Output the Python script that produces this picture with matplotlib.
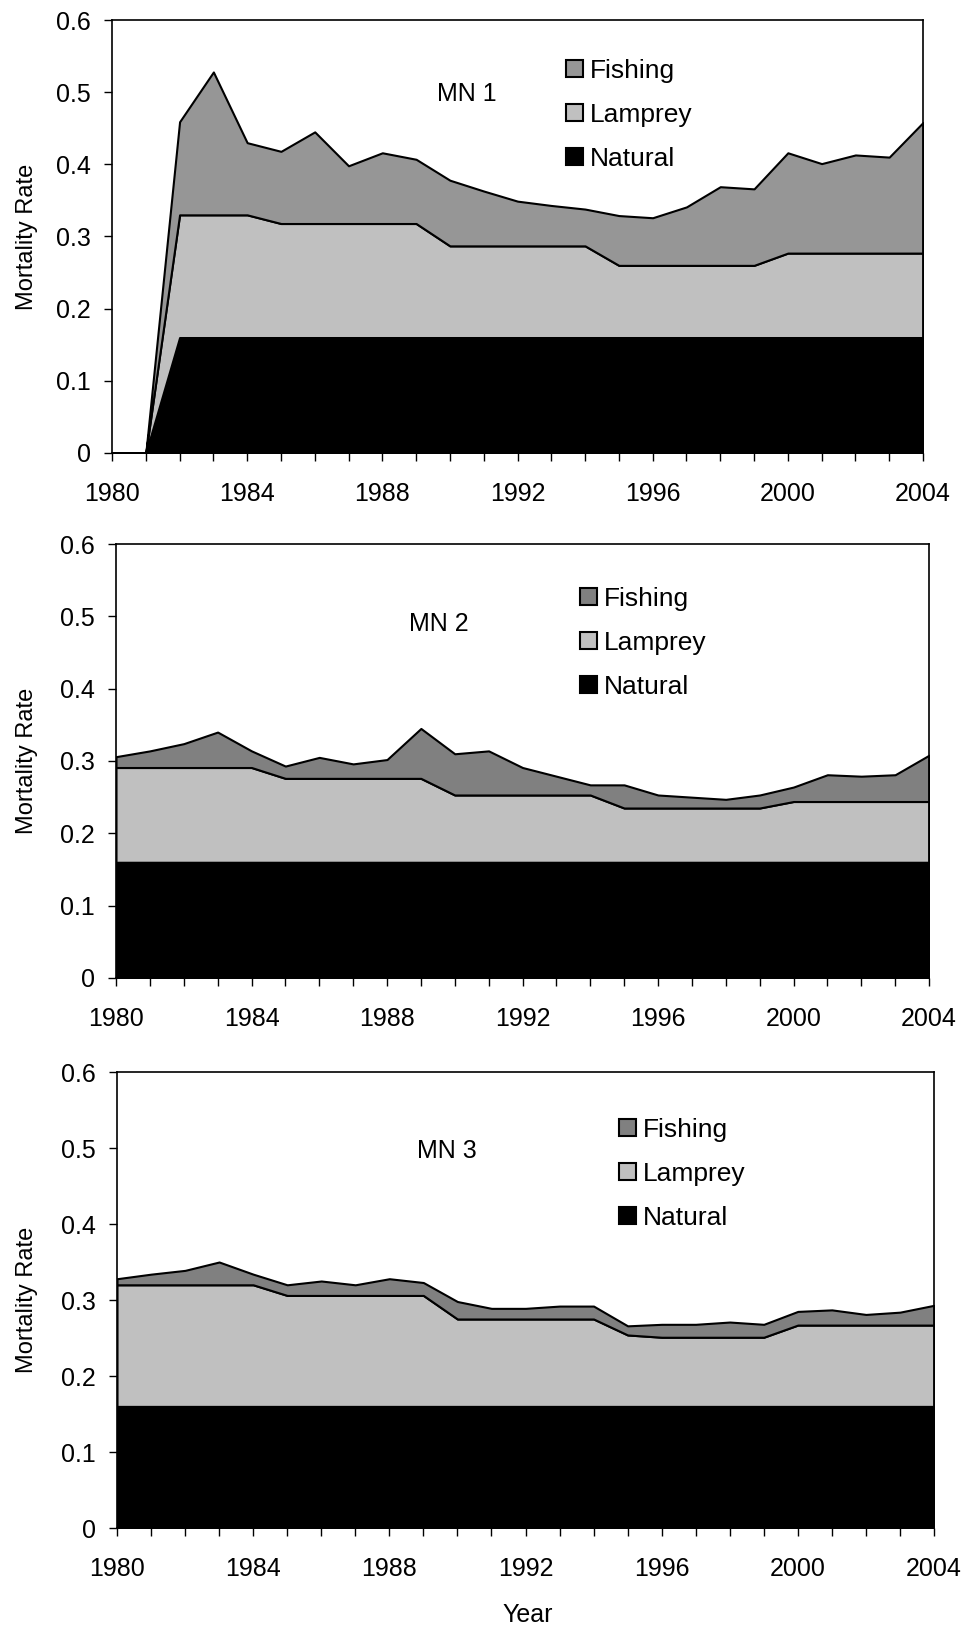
import matplotlib
matplotlib.use('Agg')
import matplotlib.pyplot as plt
from matplotlib.ticker import MultipleLocator

plt.rcParams['font.family'] = ['Liberation Sans', 'DejaVu Sans']

years = list(range(1980, 2005))
labels = ['Natural', 'Lamprey', 'Fishing']
yticks = [0, 0.1, 0.2, 0.3, 0.4, 0.5, 0.6]
ytick_labels = ['0', '0.1', '0.2', '0.3', '0.4', '0.5', '0.6']

# MN 1
natural1 = [0, 0, 0.16, 0.16, 0.16, 0.16, 0.16, 0.16, 0.16, 0.16, 0.16, 0.16, 0.16,
            0.16, 0.16, 0.16, 0.16, 0.16, 0.16, 0.16, 0.16, 0.16, 0.16, 0.16, 0.16]
lamprey1 = [0, 0, 0.17, 0.17, 0.17, 0.158, 0.158, 0.158, 0.158, 0.158, 0.127, 0.127, 0.127,
            0.127, 0.127, 0.10, 0.10, 0.10, 0.10, 0.10, 0.117, 0.117, 0.117, 0.117, 0.117]
fishing1 = [0, 0, 0.129, 0.198, 0.10, 0.10, 0.127, 0.08, 0.098, 0.089, 0.091, 0.076, 0.062,
            0.056, 0.051, 0.069, 0.066, 0.081, 0.109, 0.106, 0.139, 0.124, 0.136, 0.133, 0.181]

# MN 2
natural2 = [0.16, 0.16, 0.16, 0.16, 0.16, 0.16, 0.16, 0.16, 0.16, 0.16, 0.16, 0.16, 0.16,
            0.16, 0.16, 0.16, 0.16, 0.16, 0.16, 0.16, 0.16, 0.16, 0.16, 0.16, 0.16]
lamprey2 = [0.131, 0.131, 0.131, 0.131, 0.131, 0.116, 0.116, 0.116, 0.116, 0.116, 0.093, 0.093, 0.093,
            0.093, 0.093, 0.075, 0.075, 0.075, 0.075, 0.075, 0.084, 0.084, 0.084, 0.084, 0.084]
fishing2 = [0.015, 0.023, 0.033, 0.049, 0.023, 0.017, 0.029, 0.020, 0.026, 0.069, 0.057, 0.061, 0.038,
            0.026, 0.014, 0.032, 0.018, 0.015, 0.012, 0.018, 0.020, 0.037, 0.035, 0.037, 0.064]

# MN 3
natural3 = [0.16, 0.16, 0.16, 0.16, 0.16, 0.16, 0.16, 0.16, 0.16, 0.16, 0.16, 0.16, 0.16,
            0.16, 0.16, 0.16, 0.16, 0.16, 0.16, 0.16, 0.16, 0.16, 0.16, 0.16, 0.16]
lamprey3 = [0.160, 0.160, 0.160, 0.160, 0.160, 0.146, 0.146, 0.146, 0.146, 0.146, 0.115, 0.115, 0.115,
            0.115, 0.115, 0.094, 0.091, 0.091, 0.091, 0.091, 0.107, 0.107, 0.107, 0.107, 0.107]
fishing3 = [0.008, 0.014, 0.019, 0.030, 0.014, 0.014, 0.019, 0.014, 0.022, 0.017, 0.023, 0.014, 0.014,
            0.017, 0.017, 0.012, 0.017, 0.017, 0.020, 0.017, 0.018, 0.020, 0.014, 0.017, 0.026]

W, H = 963, 1625
fig = plt.figure(figsize=(W / 100, H / 100), dpi=100)

# left, right, top, bottom in pixels
panels = [
    ('MN 1', natural1, lamprey1, fishing1, '#969696', (112, 923, 20, 453), (467, 94), (566, 59)),
    ('MN 2', natural2, lamprey2, fishing2, '#808080', (116, 929, 544, 978), (439, 624), (580, 587)),
    ('MN 3', natural3, lamprey3, fishing3, '#808080', (117, 934, 1072, 1528), (447, 1151), (619, 1118)),
]

for name, nat, lam, fis, fcol, box, txt, leg in panels:
    l, r, t, b = box
    ax = fig.add_axes([l / W, 1 - b / H, (r - l) / W, (b - t) / H])
    polys = ax.stackplot(years, nat, lam, fis, colors=['black', '#C0C0C0', fcol],
                         edgecolor='black', linewidth=1.5, labels=labels)
    ax.set_xlim(1980, 2004)
    ax.set_ylim(0, 0.6)
    ax.xaxis.set_major_locator(MultipleLocator(4))
    ax.xaxis.set_minor_locator(MultipleLocator(1))
    ax.set_yticks(yticks)
    ax.set_yticklabels(ytick_labels)
    ax.tick_params(axis='x', which='both', direction='out', length=6, width=1, labelsize=18, pad=15)
    ax.tick_params(axis='y', direction='out', length=6, width=1, labelsize=18, pad=9)
    for s in ax.spines.values():
        s.set_linewidth(1.2)
    ax.set_ylabel('Mortality Rate', fontsize=17)
    ax.yaxis.set_label_coords((38 - l) / (r - l), 0.5)
    ax.text(txt[0], H - txt[1], name, transform=None, fontsize=18, ha='center', va='center')
    handles = [polys[2], polys[1], polys[0]]
    ax.legend(handles, ['Fishing', 'Lamprey', 'Natural'], loc='upper left',
              bbox_to_anchor=(leg[0] / W, 1 - leg[1] / H), bbox_transform=fig.transFigure,
              frameon=False, fontsize=19, borderpad=0, borderaxespad=0,
              handlelength=0.65, handleheight=0.6, handletextpad=0.25, labelspacing=0.75)

fig.text(528 / W, 1 - 1615 / H, 'Year', fontsize=18, ha='center', va='center')

fig.savefig('out.png', dpi=100)
